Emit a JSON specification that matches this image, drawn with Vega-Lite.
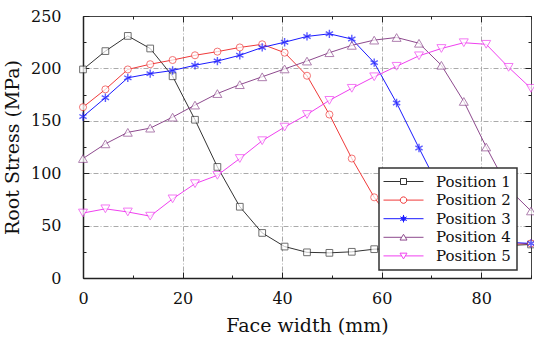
{
  "$schema": "https://vega.github.io/schema/vega-lite/v6.json",
  "width": 448,
  "height": 262,
  "autosize": "none",
  "padding": {"left": 83, "top": 16, "right": 3, "bottom": 64},
  "background": "white",
  "config": {
    "view": {"stroke": "#444444", "strokeWidth": 1},
    "axis": {
      "labelFont": "DejaVu Serif", "labelFontSize": 16, "labelColor": "#111111",
      "titleFont": "DejaVu Serif", "titleFontSize": 19, "titleFontWeight": "normal", "titleColor": "#111111",
      "domainColor": "#222222", "domainWidth": 1.5, "tickColor": "#222222", "tickWidth": 1,
      "gridColor": "#aaaaaa", "gridDash": [5, 2, 1, 2], "gridWidth": 1
    },
    "legend": {
      "padding": 6, "rowPadding": 2.6, "strokeColor": "#333333", "strokeWidth": 1.5, "fillColor": "white",
      "labelFont": "DejaVu Serif", "labelFontSize": 15, "labelColor": "#111111",
      "symbolSize": 100, "symbolOffset": 11, "labelOffset": 25, "symbolStrokeWidth": 1,
      "symbolFillColor": "white"
    }
  },
  "data": {"values": [
    {"pos": "Position 1", "x": 0, "y": 199}, {"pos": "Position 1", "x": 4.5, "y": 216.5}, {"pos": "Position 1", "x": 9, "y": 231}, {"pos": "Position 1", "x": 13.5, "y": 219}, {"pos": "Position 1", "x": 18, "y": 192.5}, {"pos": "Position 1", "x": 22.5, "y": 151}, {"pos": "Position 1", "x": 27, "y": 106}, {"pos": "Position 1", "x": 31.5, "y": 68}, {"pos": "Position 1", "x": 36, "y": 43}, {"pos": "Position 1", "x": 40.5, "y": 30}, {"pos": "Position 1", "x": 45, "y": 24.5}, {"pos": "Position 1", "x": 49.5, "y": 24}, {"pos": "Position 1", "x": 54, "y": 25}, {"pos": "Position 1", "x": 58.5, "y": 27.5}, {"pos": "Position 1", "x": 63, "y": 28}, {"pos": "Position 1", "x": 67.5, "y": 29}, {"pos": "Position 1", "x": 72, "y": 30}, {"pos": "Position 1", "x": 76.5, "y": 30}, {"pos": "Position 1", "x": 81, "y": 31}, {"pos": "Position 1", "x": 85.5, "y": 31}, {"pos": "Position 1", "x": 90, "y": 32},
    {"pos": "Position 2", "x": 0, "y": 163}, {"pos": "Position 2", "x": 4.5, "y": 180}, {"pos": "Position 2", "x": 9, "y": 199}, {"pos": "Position 2", "x": 13.5, "y": 204}, {"pos": "Position 2", "x": 18, "y": 208}, {"pos": "Position 2", "x": 22.5, "y": 212.5}, {"pos": "Position 2", "x": 27, "y": 216}, {"pos": "Position 2", "x": 31.5, "y": 220}, {"pos": "Position 2", "x": 36, "y": 223}, {"pos": "Position 2", "x": 40.5, "y": 215}, {"pos": "Position 2", "x": 45, "y": 193}, {"pos": "Position 2", "x": 49.5, "y": 156}, {"pos": "Position 2", "x": 54, "y": 114}, {"pos": "Position 2", "x": 58.5, "y": 77}, {"pos": "Position 2", "x": 63, "y": 48}, {"pos": "Position 2", "x": 67.5, "y": 36}, {"pos": "Position 2", "x": 72, "y": 33}, {"pos": "Position 2", "x": 76.5, "y": 32}, {"pos": "Position 2", "x": 81, "y": 32}, {"pos": "Position 2", "x": 85.5, "y": 32}, {"pos": "Position 2", "x": 90, "y": 33},
    {"pos": "Position 3", "x": 0, "y": 154}, {"pos": "Position 3", "x": 4.5, "y": 172}, {"pos": "Position 3", "x": 9, "y": 191}, {"pos": "Position 3", "x": 13.5, "y": 195}, {"pos": "Position 3", "x": 18, "y": 198}, {"pos": "Position 3", "x": 22.5, "y": 203}, {"pos": "Position 3", "x": 27, "y": 207}, {"pos": "Position 3", "x": 31.5, "y": 212.5}, {"pos": "Position 3", "x": 36, "y": 220}, {"pos": "Position 3", "x": 40.5, "y": 225}, {"pos": "Position 3", "x": 45, "y": 230.5}, {"pos": "Position 3", "x": 49.5, "y": 233}, {"pos": "Position 3", "x": 54, "y": 228}, {"pos": "Position 3", "x": 58.5, "y": 205.5}, {"pos": "Position 3", "x": 63, "y": 167}, {"pos": "Position 3", "x": 67.5, "y": 124}, {"pos": "Position 3", "x": 72, "y": 82}, {"pos": "Position 3", "x": 76.5, "y": 50}, {"pos": "Position 3", "x": 81, "y": 37}, {"pos": "Position 3", "x": 85.5, "y": 34}, {"pos": "Position 3", "x": 90, "y": 33},
    {"pos": "Position 4", "x": 0, "y": 114}, {"pos": "Position 4", "x": 4.5, "y": 128}, {"pos": "Position 4", "x": 9, "y": 139}, {"pos": "Position 4", "x": 13.5, "y": 143}, {"pos": "Position 4", "x": 18, "y": 153.5}, {"pos": "Position 4", "x": 22.5, "y": 165}, {"pos": "Position 4", "x": 27, "y": 176}, {"pos": "Position 4", "x": 31.5, "y": 184.5}, {"pos": "Position 4", "x": 36, "y": 192}, {"pos": "Position 4", "x": 40.5, "y": 199.5}, {"pos": "Position 4", "x": 45, "y": 207}, {"pos": "Position 4", "x": 49.5, "y": 215}, {"pos": "Position 4", "x": 54, "y": 222}, {"pos": "Position 4", "x": 58.5, "y": 227}, {"pos": "Position 4", "x": 63, "y": 229.5}, {"pos": "Position 4", "x": 67.5, "y": 224}, {"pos": "Position 4", "x": 72, "y": 203}, {"pos": "Position 4", "x": 76.5, "y": 168.5}, {"pos": "Position 4", "x": 81, "y": 125}, {"pos": "Position 4", "x": 85.5, "y": 85}, {"pos": "Position 4", "x": 90, "y": 64},
    {"pos": "Position 5", "x": 0, "y": 62}, {"pos": "Position 5", "x": 4.5, "y": 66}, {"pos": "Position 5", "x": 9, "y": 63}, {"pos": "Position 5", "x": 13.5, "y": 59}, {"pos": "Position 5", "x": 18, "y": 75.5}, {"pos": "Position 5", "x": 22.5, "y": 90}, {"pos": "Position 5", "x": 27, "y": 98}, {"pos": "Position 5", "x": 31.5, "y": 114}, {"pos": "Position 5", "x": 36, "y": 131}, {"pos": "Position 5", "x": 40.5, "y": 144}, {"pos": "Position 5", "x": 45, "y": 156}, {"pos": "Position 5", "x": 49.5, "y": 169.5}, {"pos": "Position 5", "x": 54, "y": 181}, {"pos": "Position 5", "x": 58.5, "y": 192}, {"pos": "Position 5", "x": 63, "y": 202}, {"pos": "Position 5", "x": 67.5, "y": 212}, {"pos": "Position 5", "x": 72, "y": 219}, {"pos": "Position 5", "x": 76.5, "y": 224.5}, {"pos": "Position 5", "x": 81, "y": 223}, {"pos": "Position 5", "x": 85.5, "y": 201}, {"pos": "Position 5", "x": 90, "y": 181}
  ]},
  "resolve": {"scale": {"x": "independent", "y": "independent"}, "axis": {"x": "independent", "y": "independent"}},
  "layer": [
    {
      "encoding": {
        "x": {"field": "x", "type": "quantitative", "scale": {"domain": [0, 90], "nice": false, "zero": false},
          "axis": {"orient": "bottom", "title": "Face width (mm)", "values": [0, 10, 20, 30, 40, 50, 60, 70, 80, 90],
            "labelExpr": "datum.value % 20 === 0 && datum.value < 90 ? datum.label : ''",
            "grid": true, "gridOpacity": {"condition": {"test": "datum.value % 20 === 0 && datum.value > 0", "value": 1}, "value": 0},
            "tickSize": {"condition": {"test": "datum.value % 20 === 0", "value": -6}, "value": -3},
            "labelPadding": 18, "titlePadding": 10, "labelFlush": false}},
        "y": {"field": "y", "type": "quantitative", "scale": {"domain": [0, 250], "nice": false, "zero": false},
          "axis": {"orient": "left", "title": "Root Stress (MPa)", "values": [0, 25, 50, 75, 100, 125, 150, 175, 200, 225, 250],
            "labelExpr": "datum.value % 50 === 0 ? datum.label : ''",
            "grid": true, "gridOpacity": {"condition": {"test": "datum.value % 50 === 0 && datum.value > 0 && datum.value < 250", "value": 1}, "value": 0},
            "tickSize": {"condition": {"test": "datum.value % 50 === 0", "value": -6}, "value": -3},
            "labelPadding": 28, "titlePadding": 8, "labelFlush": false}}
      },
      "layer": [
        {"mark": {"type": "line", "strokeWidth": 1},
         "encoding": {"color": {"field": "pos", "type": "nominal", "legend": null,
           "scale": {"range": ["#333333", "#f03a3a", "#1a1aff", "#8e4a8e", "#f040f0"]}}}},
        {"transform": [{"filter": {"field": "pos", "equal": "Position 1"}}],
         "mark": {"type": "point", "shape": "square", "size": 45, "filled": false, "fill": "white", "strokeWidth": 1},
         "encoding": {"color": {"field": "pos", "type": "nominal", "legend": null}}},
        {"transform": [{"filter": {"field": "pos", "equal": "Position 2"}}],
         "mark": {"type": "point", "shape": "circle", "size": 50, "filled": false, "fill": "white", "strokeWidth": 1},
         "encoding": {"color": {"field": "pos", "type": "nominal", "legend": null}}},
        {"transform": [{"filter": {"field": "pos", "equal": "Position 3"}}],
         "mark": {"type": "point", "shape": "M0,-1V1M-0.87,-0.5L0.87,0.5M-0.87,0.5L0.87,-0.5", "size": 70, "filled": false, "strokeWidth": 1.4},
         "encoding": {"color": {"field": "pos", "type": "nominal", "legend": null}}},
        {"transform": [{"filter": {"field": "pos", "equal": "Position 4"}}],
         "mark": {"type": "point", "shape": "triangle-up", "size": 80, "filled": false, "fill": "white", "strokeWidth": 1},
         "encoding": {"color": {"field": "pos", "type": "nominal", "legend": null}}},
        {"transform": [{"filter": {"field": "pos", "equal": "Position 5"}}],
         "mark": {"type": "point", "shape": "triangle-down", "size": 80, "filled": false, "fill": "white", "strokeWidth": 1},
         "encoding": {"color": {"field": "pos", "type": "nominal", "legend": null}}},
        {"mark": {"type": "point", "filled": true, "fill": "white", "fillOpacity": 0, "strokeOpacity": 0, "size": 100, "strokeWidth": 1},
         "encoding": {
           "stroke": {"field": "pos", "type": "nominal",
             "scale": {"domain": ["Position 1", "Position 2", "Position 3", "Position 4", "Position 5"], "range": ["#333333", "#f03a3a", "#1a1aff", "#8e4a8e", "#f040f0"]},
             "legend": {"orient": "none", "legendX": 296, "legendY": 152, "title": null,
               "encode": {"symbols": {"update": {"strokeOpacity": {"value": 1}, "fillOpacity": {"value": 1}, "opacity": {"value": 1}}}}}},
           "shape": {"field": "pos", "type": "nominal",
             "legend": {"orient": "none", "legendX": 296, "legendY": 152, "title": null,
               "encode": {"symbols": {"update": {"strokeOpacity": {"value": 1}, "fillOpacity": {"value": 1}, "opacity": {"value": 1}}}}},
             "scale": {"domain": ["Position 1", "Position 2", "Position 3", "Position 4", "Position 5"],
               "range": [
                 "M-4,0H-0.6M0.6,0H4M-0.6,-0.6H0.6V0.6H-0.6Z",
                 "M-4,0H-0.65M0.65,0H4M0.65,0L0.563,0.325L0.325,0.563L0,0.65L-0.325,0.563L-0.563,0.325L-0.65,0L-0.563,-0.325L-0.325,-0.563L0,-0.65L0.325,-0.563L0.563,-0.325Z",
                 "M-4,0H4M0,-0.75V0.75M-0.65,-0.38L0.65,0.38M-0.65,0.38L0.65,-0.38M-0.3,-0.3H0.3V0.3H-0.3Z",
                 "M-4,0H-0.37M0.37,0H4M0,-0.6L0.7,0.55L-0.7,0.55Z",
                 "M-4,0H-0.37M0.37,0H4M0,0.6L0.7,-0.55L-0.7,-0.55Z"]}}}}
      ]
    },
    {
      "mark": {"type": "line", "strokeOpacity": 0},
      "encoding": {
        "x": {"field": "x", "type": "quantitative", "scale": {"domain": [0, 90], "nice": false, "zero": false},
          "axis": {"orient": "top", "title": null, "labels": false, "domain": false, "grid": false,
            "values": [0, 10, 20, 30, 40, 50, 60, 70, 80, 90],
            "tickSize": {"condition": {"test": "datum.value % 20 === 0", "value": -6}, "value": -3}}},
        "y": {"field": "y", "type": "quantitative", "scale": {"domain": [0, 250], "nice": false, "zero": false},
          "axis": {"orient": "right", "title": null, "labels": false, "domain": false, "grid": false,
            "values": [0, 25, 50, 75, 100, 125, 150, 175, 200, 225, 250],
            "tickSize": {"condition": {"test": "datum.value % 50 === 0", "value": -6}, "value": -3}}},
        "detail": {"field": "pos", "type": "nominal"}
      }
    }
  ]
}
